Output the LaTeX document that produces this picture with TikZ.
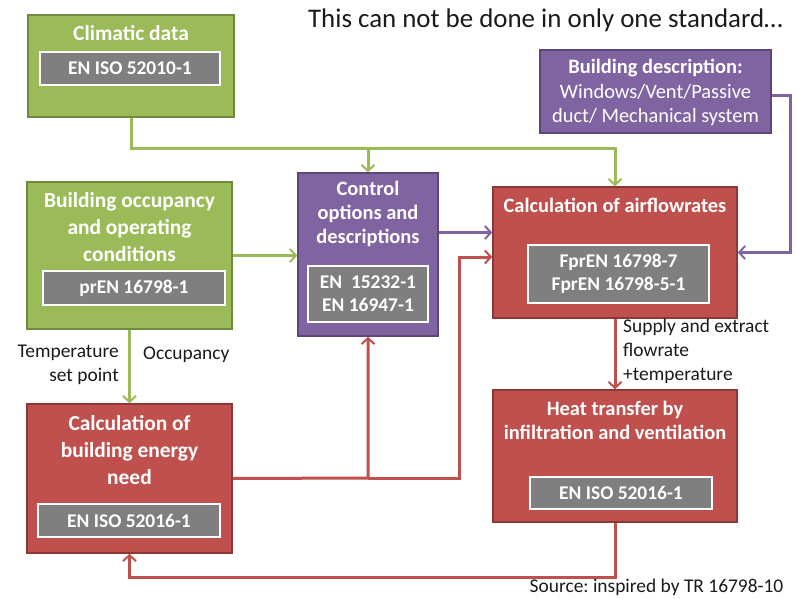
\documentclass[tikz,border=0pt]{standalone}
\usepackage{fontspec}
\setmainfont{Carlito}
\usetikzlibrary{arrows.meta}
\definecolor{boxgreen}{HTML}{9BBB59}
\definecolor{boxgreenline}{HTML}{71893F}
\definecolor{boxpurple}{HTML}{8064A2}
\definecolor{boxpurpleline}{HTML}{5C4776}
\definecolor{boxred}{HTML}{C0504D}
\definecolor{boxredline}{HTML}{8C3836}
\definecolor{stdgrey}{HTML}{7F7F7F}
\definecolor{inktext}{HTML}{1A1A1A}
\frenchspacing

\begin{document}
\begin{tikzpicture}[>={Straight Barb[length=6bp,width=13bp,line width=2bp]},line join=miter,
  greenbox/.style={rectangle,fill=boxgreen,draw=boxgreenline,line width=1.5bp,inner sep=0pt},
  purplebox/.style={rectangle,fill=boxpurple,draw=boxpurpleline,line width=1.5bp,inner sep=0pt},
  redbox/.style={rectangle,fill=boxred,draw=boxredline,line width=1.5bp,inner sep=0pt},
  boxtitle/.style={text=white,align=center,inner sep=0pt,font=\bfseries\fontsize{20.5}{24}\selectfont},
  bigtitle/.style={boxtitle,font=\bfseries\fontsize{21.5}{27}\selectfont},
  stdbox/.style={rectangle,fill=stdgrey,draw=white,line width=1.5bp,inner sep=0pt,text=white,align=center,font=\bfseries\fontsize{19.5}{23}\selectfont},
  greenline/.style={draw=boxgreen,line width=3bp},
  purpleline/.style={draw=boxpurple,line width=3bp},
  redline/.style={draw=boxred,line width=3bp},
  note/.style={text=inktext,inner sep=0pt,font=\fontsize{19.5}{24}\selectfont}]
\useasboundingbox (0bp,0bp) rectangle (797bp,-599bp);
%%
\node (node_heading) at (545.5bp,-20bp) [note,font=\fontsize{27}{30}\selectfont] {This can not be done in only one standard\dots};
\node (node_source) at (656.5bp,-587bp) [note] {Source: inspired by TR 16798-10};
%
\node (node_climatic) at (131bp,-66bp) [greenbox,minimum width=206bp,minimum height=102bp] {};
  \node (node_climatic_title) at (131bp,-33bp) [bigtitle] {Climatic data};
  \node (node_climatic_std) at (130bp,-68.5bp) [stdbox,minimum width=180bp,minimum height=33bp] {EN ISO 52010-1};
\node (node_occupancy) at (129.5bp,-255.5bp) [greenbox,minimum width=205bp,minimum height=147bp] {};
  \node (node_occupancy_title) at (129.5bp,-227bp) [bigtitle] {Building occupancy\\and operating\\conditions};
  \node (node_occupancy_std) at (134bp,-288bp) [stdbox,minimum width=182bp,minimum height=34bp] {prEN 16798-1};
\node (node_control) at (368bp,-254.5bp) [purplebox,minimum width=140bp,minimum height=163bp] {};
  \node (node_control_title) at (368bp,-214bp) [boxtitle] {Control\\options and\\descriptions};
  \node (node_control_std) at (368bp,-294bp) [stdbox,minimum width=120bp,minimum height=56bp] {EN~~15232-1\\EN 16947-1};
\node (node_desc) at (655.5bp,-91.5bp) [purplebox,minimum width=231bp,minimum height=83bp] {};
  \node (node_desc_title) at (655.5bp,-92.5bp) [boxtitle,font=\fontsize{20.5}{24.5}\selectfont] {\textbf{Building description:}\\Windows/Vent/Passive\\duct/ Mechanical system};
\node (node_airflow) at (615bp,-252.5bp) [redbox,minimum width=244bp,minimum height=131bp] {};
  \node (node_airflow_title) at (615bp,-205bp) [boxtitle] {Calculation of airflowrates};
  \node (node_airflow_std) at (618.5bp,-274bp) [stdbox,minimum width=181bp,minimum height=58bp] {FprEN 16798-7\\FprEN 16798-5-1};
\node (node_heat) at (615bp,-456bp) [redbox,minimum width=244bp,minimum height=132bp] {};
  \node (node_heat_title) at (615bp,-420bp) [boxtitle] {Heat transfer by\\infiltration and ventilation};
  \node (node_heat_std) at (621bp,-493bp) [stdbox,minimum width=182bp,minimum height=32bp] {EN ISO 52016-1};
\node (node_energy) at (129.5bp,-478.5bp) [redbox,minimum width=205bp,minimum height=149bp] {};
  \node (node_energy_title) at (129.5bp,-450bp) [bigtitle] {Calculation of\\building energy\\need};
  \node (node_energy_std) at (129bp,-520.5bp) [stdbox,minimum width=182bp,minimum height=33bp] {EN ISO 52016-1};
%
\node (node_setpoint) at (119bp,-365bp) [note,anchor=east,align=right] {Temperature\\set point};
\node (node_occ_label) at (143bp,-355bp) [note,anchor=west] {Occupancy};
\node (node_supply) at (623bp,-351bp) [note,anchor=west,align=left] {Supply and extract\\flowrate\\+temperature};
%
\coordinate (c_climate) at (368bp,-148bp);
\coordinate (c_energy) at (368bp,-478bp);
\coordinate (c_riser) at (459bp,-478bp);
  \draw [greenline,->] (node_climatic.south) |- (c_climate) -- (node_control.north);
  \draw [greenline,->] (c_climate) -| (node_airflow.north);
  \draw [greenline,->] (node_occupancy.east) -- (node_occupancy.east -| node_control.west);
  \draw [greenline,->] (node_occupancy.south) -- (node_energy.north);
  \draw [purpleline,->] ([yshift=22bp]node_control.east) -- ([yshift=22bp]node_control.east -| node_airflow.west);
  \draw [purpleline,->] ([yshift=-3.5bp]node_desc.east) -- ++(19bp,0bp) |- (node_airflow.east);
  \draw [redline,->] (node_airflow.south) -- (node_heat.north);
  \draw [redline,->] (node_heat.south) -- ++(0bp,-55bp) -| (node_energy.south);
  \draw [redline,->] (node_energy.east) -- (c_energy) -- (node_control.south);
  \draw [redline,->] (c_energy) -- (c_riser) |- ([yshift=-4.5bp]node_airflow.west);
%
\end{tikzpicture}
\end{document}
